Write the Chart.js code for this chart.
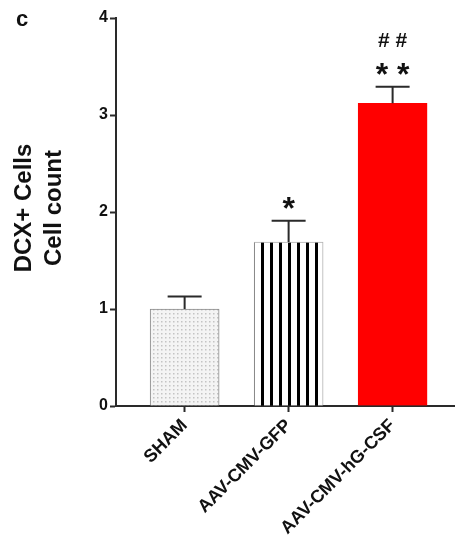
<!DOCTYPE html>
<html>
<head>
<meta charset="utf-8">
<script src="https://cdn.jsdelivr.net/npm/chart.js@4"></script>
<style>
  body { margin: 0; background: #fff; }
  canvas { display: block; }
</style>
</head>
<body>
<canvas id="myChart" width="455" height="548"></canvas>
<script>
// values
const categories = ["SHAM", "AAV-CMV-GFP", "AAV-CMV-hG-CSF"];
const means = [1.0, 1.69, 3.12];
const errors = [0.13, 0.22, 0.17];
const stars = ["", "*", "**"];
const hashes = ["", "", "##"];
const yTicks = [0, 1, 2, 3, 4];

// fills
function dotPattern() {
  let c = document.createElement("canvas");
  c.width = 4;
  c.height = 4;
  let g = c.getContext("2d");
  g.fillStyle = "#f4f4f4";
  g.fillRect(0, 0, 4, 4);
  g.fillStyle = "#c4c4c4";
  g.fillRect(1, 1, 1.5, 1.5);
  return g.createPattern(c, "repeat");
}
function stripePattern() {
  let c = document.createElement("canvas");
  c.width = 9;
  c.height = 9;
  let g = c.getContext("2d");
  g.fillStyle = "#ffffff";
  g.fillRect(0, 0, 9, 9);
  g.fillStyle = "#000000";
  g.fillRect(0, 0, 3, 9);
  return g.createPattern(c, "repeat");
}

const extras = {
  id: "extras",
  afterDatasetsDraw(chart) {
    let ctx = chart.ctx;
    let x = chart.scales.x;
    let y = chart.scales.y;
    ctx.save();
    // error bars
    ctx.strokeStyle = "#2a2a2a";
    ctx.lineWidth = 2;
    means.forEach((m, i) => {
      let px = x.getPixelForValue(i);
      let top = y.getPixelForValue(m + errors[i]);
      let base = y.getPixelForValue(m);
      ctx.beginPath();
      ctx.moveTo(px, base);
      ctx.lineTo(px, top);
      ctx.moveTo(px - 17, top);
      ctx.lineTo(px + 17, top);
      ctx.stroke();
      // significance marks
      ctx.fillStyle = "#111";
      ctx.textAlign = "center";
      ctx.textBaseline = "middle";
      if (stars[i]) {
        ctx.font = "bold 32px 'Liberation Sans', Arial, sans-serif";
        ctx.fillText(stars[i].split("").join(" "), px, top - 11);
      }
      if (hashes[i]) {
        ctx.font = "bold 21px 'Liberation Sans', Arial, sans-serif";
        ctx.fillText(hashes[i].split("").join(" "), px, top - 46);
      }
    });
    // axis title, two lines
    ctx.fillStyle = "#111";
    ctx.font = "bold 24px 'Liberation Sans', Arial, sans-serif";
    ctx.translate(24, 208);
    ctx.rotate(-Math.PI / 2);
    ctx.textAlign = "center";
    ctx.textBaseline = "middle";
    ctx.fillText("DCX+ Cells", 0, 0);
    ctx.fillText("Cell count", 0, 30);
    ctx.restore();
    // panel letter
    ctx.save();
    ctx.fillStyle = "#111";
    ctx.font = "bold 22px 'Liberation Sans', Arial, sans-serif";
    ctx.textBaseline = "alphabetic";
    ctx.fillText("c", 16, 26);
    ctx.restore();
  },
};

var ctx = document.getElementById("myChart").getContext("2d");
var myChart = new Chart(ctx, {
  type: "bar",
  data: {
    datasets: [
      {
        data: means.map((m, i) => ({ x: i, y: m })),
        backgroundColor: [dotPattern(), stripePattern(), "#ff0000"],
        borderColor: ["#8a8a8a", "#b0b0b0", "#ff0000"],
        borderWidth: 1,
        barThickness: 69,
      },
    ],
  },
  options: {
    responsive: false,
    animation: false,
    layout: { padding: { top: 18, right: 0, left: 0, bottom: 0 } },
    plugins: {
      legend: { display: false },
      tooltip: { enabled: false },
    },
    scales: {
      x: {
        type: "linear",
        offset: false,
        min: -0.66,
        max: 2.6,
        afterBuildTicks: (scale) => {
          scale.ticks = categories.map((c, i) => ({ value: i }));
        },
        afterFit: (scale) => {
          scale.height = 142;
        },
        ticks: {
          callback: (v) => categories[v],
          minRotation: 45,
          maxRotation: 45,
          autoSkip: false,
          padding: 3,
          color: "#111",
          font: { family: "'Liberation Sans', Arial, sans-serif", size: 18, weight: "bold" },
        },
        grid: {
          offset: false,
          drawOnChartArea: false,
          drawTicks: true,
          tickLength: 6,
          tickColor: "#2a2a2a",
          tickWidth: 2,
        },
        border: { color: "#2a2a2a", width: 2 },
      },
      y: {
        min: 0,
        max: 4,
        afterBuildTicks: (scale) => {
          scale.ticks = yTicks.map((v) => ({ value: v }));
        },
        afterFit: (scale) => {
          scale.width = 116;
        },
        ticks: {
          padding: 2,
          color: "#111",
          font: { family: "'Liberation Sans', Arial, sans-serif", size: 16, weight: "bold" },
        },
        grid: {
          drawOnChartArea: false,
          drawTicks: true,
          tickLength: 6,
          tickColor: "#2a2a2a",
          tickWidth: 2,
        },
        border: { color: "#2a2a2a", width: 2 },
      },
    },
  },
  plugins: [extras],
});
</script>
</body>
</html>
